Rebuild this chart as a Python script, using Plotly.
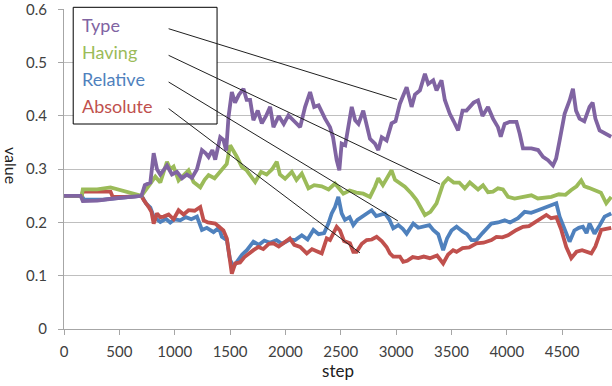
import plotly.graph_objects as go

# ---- series data (step, value) ----
type_steps = [0, 150, 170, 300, 450, 600, 700, 730, 780, 810, 840, 870, 900, 930, 975, 1020, 1066, 1110, 1156, 1201,
              1246, 1280, 1306, 1340, 1366, 1411, 1440, 1465, 1486, 1516, 1545, 1580, 1621, 1650, 1681, 1711, 1750,
              1787, 1825, 1862, 1892, 1940, 1985, 2027, 2080, 2133, 2178, 2223, 2260, 2300, 2358, 2403, 2430, 2463,
              2487, 2508, 2540, 2568, 2599, 2630, 2660, 2703, 2735, 2764, 2809, 2839, 2870, 2914, 2959, 2995, 3034,
              3095, 3140, 3170, 3215, 3260, 3290, 3335, 3365, 3410, 3440, 3485, 3520, 3560, 3600, 3636, 3700, 3740,
              3780, 3830, 3875, 3920, 3945, 3980, 4026, 4087, 4116, 4146, 4222, 4282, 4327, 4372, 4417, 4445, 4477,
              4522, 4567, 4597, 4625, 4657, 4700, 4747, 4775, 4800, 4838, 4883, 4943]
type_values = [0.25, 0.25, 0.24, 0.241, 0.245, 0.247, 0.25, 0.27, 0.275, 0.33, 0.30, 0.29, 0.30, 0.307, 0.29, 0.295,
               0.283, 0.29, 0.284, 0.30, 0.336, 0.33, 0.323, 0.336, 0.318, 0.36, 0.355, 0.335, 0.398, 0.445, 0.425,
               0.44, 0.451, 0.43, 0.43, 0.392, 0.41, 0.386, 0.40, 0.417, 0.379, 0.40, 0.385, 0.401, 0.39, 0.379,
               0.417, 0.445, 0.417, 0.42, 0.395, 0.379, 0.36, 0.317, 0.298, 0.348, 0.345, 0.379, 0.417, 0.392, 0.385,
               0.41, 0.379, 0.357, 0.348, 0.336, 0.36, 0.354, 0.386, 0.39, 0.423, 0.454, 0.417, 0.44, 0.448, 0.479,
               0.46, 0.467, 0.448, 0.467, 0.43, 0.404, 0.39, 0.373, 0.41, 0.41, 0.425, 0.429, 0.40, 0.417, 0.395,
               0.379, 0.361, 0.385, 0.389, 0.389, 0.367, 0.339, 0.339, 0.336, 0.323, 0.317, 0.307, 0.32, 0.354,
               0.404, 0.429, 0.451, 0.41, 0.395, 0.39, 0.417, 0.425, 0.395, 0.373, 0.367, 0.361]

having_steps = [0, 160, 170, 300, 420, 550, 700, 780, 825, 870, 930, 960, 990, 1035, 1080, 1125, 1170, 1231, 1270,
                1306, 1360, 1426, 1470, 1501, 1530, 1562, 1607, 1650, 1727, 1780, 1830, 1880, 1922, 1950, 1997, 2058,
                2100, 2148, 2208, 2260, 2328, 2390, 2448, 2523, 2580, 2640, 2703, 2764, 2809, 2839, 2880, 2920, 2959,
                2990, 3030, 3079, 3140, 3185, 3260, 3310, 3365, 3425, 3470, 3520, 3570, 3620, 3666, 3700, 3740, 3785,
                3830, 3875, 3920, 3965, 4011, 4070, 4140, 4222, 4280, 4340, 4402, 4470, 4530, 4582, 4630, 4672, 4700,
                4740, 4808, 4850, 4898, 4943]
having_values = [0.25, 0.25, 0.262, 0.262, 0.266, 0.258, 0.25, 0.273, 0.286, 0.275, 0.314, 0.30, 0.305, 0.279,
                 0.288, 0.298, 0.276, 0.266, 0.28, 0.289, 0.283, 0.298, 0.31, 0.345, 0.335, 0.323, 0.304, 0.298,
                 0.276, 0.295, 0.29, 0.30, 0.314, 0.29, 0.282, 0.295, 0.28, 0.292, 0.264, 0.27, 0.268, 0.262, 0.273,
                 0.254, 0.26, 0.256, 0.254, 0.248, 0.267, 0.283, 0.27, 0.285, 0.298, 0.28, 0.275, 0.267, 0.254,
                 0.242, 0.214, 0.22, 0.236, 0.273, 0.283, 0.275, 0.275, 0.264, 0.275, 0.27, 0.262, 0.27, 0.257,
                 0.258, 0.264, 0.262, 0.248, 0.245, 0.248, 0.251, 0.245, 0.247, 0.248, 0.253, 0.252, 0.261, 0.268,
                 0.279, 0.268, 0.265, 0.259, 0.256, 0.236, 0.248]

relative_steps = [0, 160, 180, 350, 500, 700, 740, 780, 810, 840, 870, 920, 960, 1000, 1050, 1100, 1150, 1201, 1246,
                  1290, 1351, 1400, 1426, 1471, 1500, 1531, 1570, 1610, 1652, 1711, 1760, 1810, 1860, 1920, 1970,
                  2040, 2088, 2148, 2200, 2253, 2300, 2350, 2388, 2418, 2448, 2478, 2508, 2538, 2580, 2613, 2650,
                  2700, 2734, 2779, 2820, 2860, 2899, 2940, 2974, 3020, 3060, 3095, 3155, 3200, 3260, 3300, 3335,
                  3380, 3425, 3460, 3500, 3546, 3600, 3640, 3681, 3726, 3780, 3861, 3920, 3981, 4030, 4101, 4161,
                  4220, 4282, 4340, 4402, 4447, 4477, 4522, 4567, 4610, 4650, 4687, 4720, 4747, 4792, 4840, 4883,
                  4943]
relative_values = [0.25, 0.25, 0.243, 0.243, 0.246, 0.25, 0.236, 0.228, 0.211, 0.205, 0.201, 0.207, 0.2, 0.206,
                   0.204, 0.21, 0.206, 0.211, 0.186, 0.19, 0.182, 0.19, 0.173, 0.167, 0.13, 0.117, 0.128, 0.14,
                   0.148, 0.164, 0.158, 0.166, 0.162, 0.167, 0.16, 0.168, 0.167, 0.176, 0.168, 0.186, 0.178, 0.18,
                   0.198, 0.217, 0.229, 0.248, 0.217, 0.205, 0.21, 0.195, 0.205, 0.212, 0.217, 0.223, 0.212, 0.214,
                   0.217, 0.205, 0.189, 0.195, 0.188, 0.179, 0.198, 0.19, 0.192, 0.195, 0.186, 0.178, 0.148, 0.17,
                   0.185, 0.192, 0.183, 0.178, 0.167, 0.167, 0.18, 0.198, 0.2, 0.204, 0.2, 0.208, 0.22, 0.218, 0.223,
                   0.228, 0.233, 0.236, 0.211, 0.186, 0.164, 0.185, 0.19, 0.192, 0.18, 0.198, 0.179, 0.195, 0.211,
                   0.217]

absolute_steps = [0, 160, 170, 300, 420, 440, 550, 700, 720, 765, 790, 810, 840, 870, 900, 945, 990, 1035, 1080,
                  1125, 1180, 1231, 1261, 1300, 1366, 1400, 1440, 1471, 1490, 1516, 1547, 1590, 1630, 1667, 1711,
                  1757, 1800, 1850, 1892, 1940, 1997, 2040, 2080, 2133, 2193, 2240, 2283, 2328, 2373, 2403, 2463,
                  2493, 2530, 2583, 2613, 2643, 2690, 2734, 2780, 2824, 2870, 2914, 2944, 2974, 3034, 3064, 3100,
                  3150, 3200, 3250, 3305, 3370, 3425, 3470, 3515, 3546, 3600, 3660, 3726, 3790, 3861, 3906, 3960,
                  4011, 4087, 4146, 4200, 4282, 4357, 4400, 4447, 4492, 4537, 4582, 4630, 4680, 4717, 4763, 4800,
                  4853, 4898, 4943]
absolute_values = [0.25, 0.25, 0.258, 0.258, 0.258, 0.248, 0.248, 0.25, 0.242, 0.229, 0.22, 0.198, 0.217, 0.21,
                   0.211, 0.215, 0.206, 0.223, 0.215, 0.223, 0.222, 0.229, 0.204, 0.2, 0.198, 0.192, 0.185, 0.17,
                   0.14, 0.104, 0.123, 0.125, 0.135, 0.142, 0.148, 0.154, 0.15, 0.16, 0.161, 0.155, 0.164, 0.17,
                   0.158, 0.154, 0.142, 0.15, 0.146, 0.142, 0.17, 0.167, 0.192, 0.185, 0.165, 0.161, 0.145, 0.145,
                   0.16, 0.167, 0.168, 0.173, 0.165, 0.154, 0.142, 0.136, 0.136, 0.126, 0.128, 0.135, 0.133, 0.136,
                   0.133, 0.138, 0.123, 0.14, 0.148, 0.145, 0.152, 0.153, 0.161, 0.162, 0.167, 0.173, 0.172, 0.176,
                   0.186, 0.192, 0.193, 0.204, 0.214, 0.208, 0.21, 0.186, 0.154, 0.133, 0.145, 0.148, 0.145, 0.142,
                   0.155, 0.186, 0.188, 0.19]

series_names = ["Type", "Having", "Relative", "Absolute"]
series_colors = ["#8064A2", "#9BBB59", "#4F81BD", "#C0504D"]

# label anchor (step, value) and leader target (step, value) for each series
leader_start = [(945, 0.5638), (945, 0.5138), (945, 0.4637), (945, 0.4138)]
leader_end = [(3007, 0.431), (3397, 0.272), (3016, 0.203), (2673, 0.143)]

x_ticks = [0, 500, 1000, 1500, 2000, 2500, 3000, 3500, 4000, 4500]
y_ticks = [0, 0.1, 0.2, 0.3, 0.4, 0.5, 0.6]

font_family = "Lato, 'Open Sans', sans-serif"

fig = go.Figure()

# drawing order: blue, red, green, purple on top
data = {
    "Type": (type_steps, type_values),
    "Having": (having_steps, having_values),
    "Relative": (relative_steps, relative_values),
    "Absolute": (absolute_steps, absolute_values),
}
color_of = dict(zip(series_names, series_colors))
for name in ["Relative", "Absolute", "Having", "Type"]:
    xs, ys = data[name]
    fig.add_trace(go.Scatter(x=xs, y=ys, mode="lines", name=name,
                             line=dict(color=color_of[name], width=3.8),
                             showlegend=False, hoverinfo="skip"))

shapes = []
# leader lines from labels to series
for (x0, y0), (x1, y1) in zip(leader_start, leader_end):
    shapes.append(dict(type="line", xref="x", yref="y", x0=x0, y0=y0, x1=x1, y1=y1,
                       line=dict(color="#202020", width=1), layer="above"))
# label box
shapes.insert(0, dict(type="rect", xref="paper", yref="paper", x0=0.0168, x1=0.2793, y0=0.6406, y1=1.0053,
                      line=dict(color="#000000", width=1), fillcolor="white", layer="above"))

annotations = []
label_y = [0.95, 0.8656, 0.78125, 0.6969]
for name, color, yy in zip(series_names, series_colors, label_y):
    annotations.append(dict(text=name, xref="paper", yref="paper", x=0.030, y=yy, xanchor="left",
                            yanchor="middle", showarrow=False,
                            font=dict(family=font_family, size=18, color=color)))
annotations.append(dict(text="value", xref="paper", yref="paper", x=-0.097, y=0.51, textangle=90,
                        showarrow=False, xanchor="center", yanchor="middle",
                        font=dict(family=font_family, size=16, color="#202020")))

fig.update_layout(
    width=612, height=386,
    margin=dict(l=64, r=0, t=9, b=57),
    plot_bgcolor="white", paper_bgcolor="white",
    shapes=shapes, annotations=annotations,
    font=dict(family=font_family, size=15, color="#404040"),
    xaxis=dict(range=[0, 4950], tickvals=x_ticks, showgrid=False, zeroline=False,
               showline=True, linecolor="#A6A6A6", linewidth=1,
               ticks="outside", ticklen=5, tickcolor="#A6A6A6", ticklabelstandoff=4,
               ticklabeloverflow="allow",
               title=dict(text="step", standoff=6, font=dict(family=font_family, size=17, color="#202020"))),
    yaxis=dict(range=[0, 0.6008], tickvals=y_ticks, ticktext=["0", "0.1", "0.2", "0.3", "0.4", "0.5", "0.6"],
               showgrid=True, gridcolor="#BFBFBF", gridwidth=1, zeroline=False,
               showline=True, linecolor="#A6A6A6", linewidth=1,
               ticks="outside", ticklen=5, tickcolor="#A6A6A6", ticklabelstandoff=8,
               ticklabeloverflow="allow"),
)

fig.write_html("out.html")
